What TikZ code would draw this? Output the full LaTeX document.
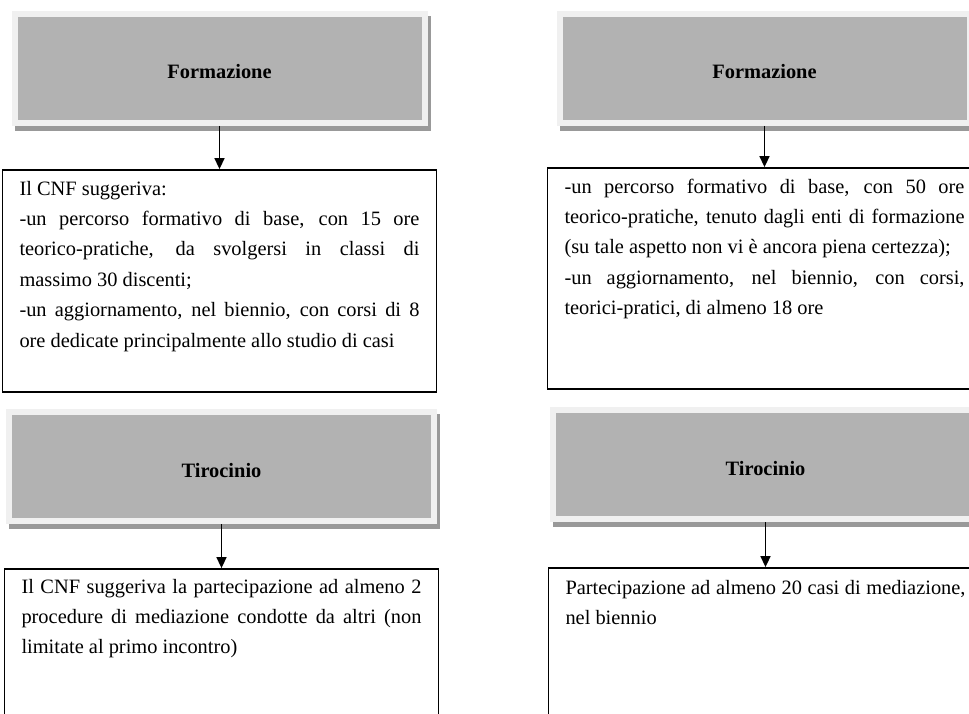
\documentclass[tikz,border=0pt]{standalone}
\usepackage{fontspec}
\setmainfont{Liberation Serif}
\usetikzlibrary{positioning,shadows,arrows.meta}
\newlength{\px}
\setlength{\px}{0.75pt}
\tolerance=9999

\tikzset{
	head/.style={fill=gray!60, draw=gray!12, line width=6\px, inner sep=0pt,
		minimum width=410\px, minimum height=109\px, text height=21\px, text depth=0pt,
		font=\bfseries\fontsize{15.3pt}{18pt}\selectfont,
		general shadow={shadow xshift=3\px, shadow yshift=-5\px, fill=gray!80, draw=gray!80, line width=6\px}},
	body/.style={draw, line width=1.8\px, inner xsep=17\px, inner ysep=0pt,
		text width=400\px, align=justify, text height=25\px,
		font=\fontsize{15.3pt}{22.8pt}\selectfont}
}

\begin{document}
\begin{tikzpicture}[x=\px,y=-\px,on grid,>={Triangle[length=8.25pt,width=7.5pt]}]
	\useasboundingbox (0,0) rectangle (969,713);
	% colonna di sinistra
	\node[head] (formL) at (219.5,68.5) {Formazione};
	\node[body,text depth=197\px,below=212.5\px of formL] (textL1) {Il CNF suggeriva:\\
		-un percorso formativo di base, con 15 ore\linebreak
		teorico-pratiche, da svolgersi in classi di\linebreak
		massimo 30 discenti;\\
		-un aggiornamento, nel biennio, con corsi di 8\linebreak
		ore dedicate principalmente allo studio di casi};
	\node[head,minimum width=425\px,below=398\px of formL,xshift=2\px] (tirL) {Tirocinio};
	\node[body,text height=24\px,text depth=200\px,below=214.5\px of tirL] (textL2) {Il CNF suggeriva la partecipazione ad almeno 2\linebreak
		procedure di mediazione condotte da altri (non\linebreak
		limitate al primo incontro)};
	% colonna di destra
	\node[head,right=545\px of formL] (formR) {Formazione};
	\node[body,text depth=196\px,below=210\px of formR] (textR1) {-un percorso formativo di base, con 50 ore\linebreak
		teorico-pratiche, tenuto dagli enti di formazione\linebreak
		(su tale aspetto non vi è ancora piena certezza);\\
		-un aggiornamento, nel biennio, con corsi,\linebreak
		teorici-pratici, di almeno 18 ore};
	\node[head,minimum width=425\px,below=396\px of formR,xshift=1\px] (tirR) {Tirocinio};
	\node[body,text height=26\px,text depth=200\px,below=216.5\px of tirR] (textR2) {Partecipazione ad almeno 20 casi di mediazione,\linebreak
		nel biennio};
	\path[line width=1.5\px] (formL) edge[->] (textL1)
		(tirL) edge[->] (textL2)
		(formR) edge[->] (textR1)
		(tirR) edge[->] (textR2);
\end{tikzpicture}
\end{document}
